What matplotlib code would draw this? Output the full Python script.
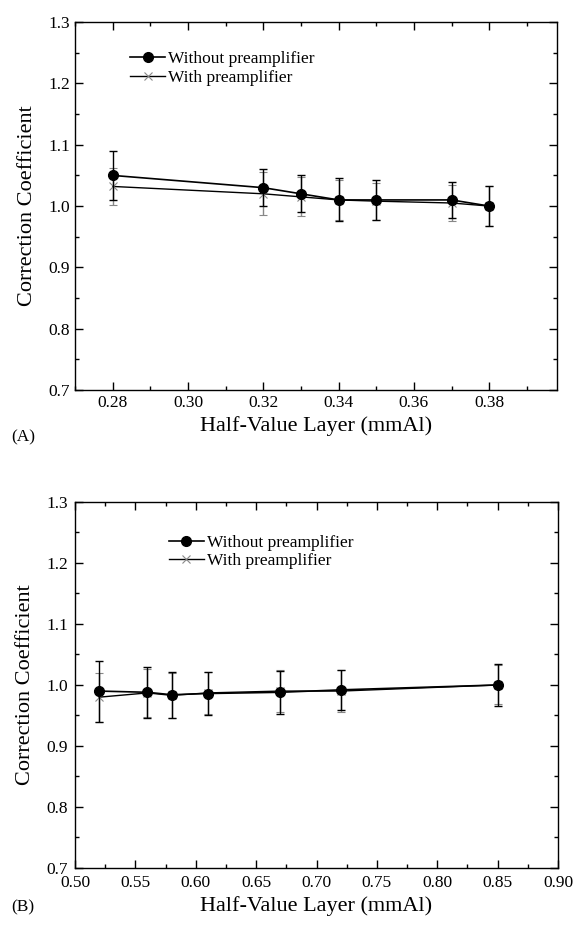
import numpy as np
import matplotlib.pyplot as plt
from matplotlib.ticker import MultipleLocator

plt.rcParams['font.family'] = ['Liberation Serif', 'DejaVu Serif']

# (A) data
hvl_a = [0.28, 0.32, 0.33, 0.34, 0.35, 0.37, 0.38]
without_a = [1.05, 1.03, 1.02, 1.01, 1.01, 1.01, 1.00]
without_a_err = [0.04, 0.03, 0.03, 0.035, 0.032, 0.03, 0.032]
with_a = [1.032, 1.02, 1.015, 1.01, 1.008, 1.005, 1.00]
with_a_err = [0.03, 0.035, 0.032, 0.032, 0.03, 0.03, 0.032]

# (B) data
hvl_b = [0.52, 0.56, 0.58, 0.61, 0.67, 0.72, 0.85]
without_b = [0.99, 0.988, 0.984, 0.986, 0.988, 0.992, 1.00]
without_b_err = [0.05, 0.042, 0.038, 0.035, 0.035, 0.033, 0.035]
with_b = [0.98, 0.987, 0.983, 0.987, 0.99, 0.99, 1.00]
with_b_err = [0.04, 0.04, 0.037, 0.035, 0.035, 0.035, 0.032]

fig = plt.figure(figsize=(5.74, 9.32), dpi=100)
ax1 = fig.add_axes([0.1307, 0.5815, 0.8397, 0.3948])
ax2 = fig.add_axes([0.1307, 0.0687, 0.8415, 0.3927])


def draw(ax, x, y1, e1, y2, e2):
    ax.errorbar(x, y2, yerr=e2, color='black', ecolor='#888888', elinewidth=1.0,
                capsize=3, capthick=1.0, lw=1.0, marker='x', ms=6, mec='#888888',
                mew=0.8, label='With preamplifier', zorder=2)
    ax.errorbar(x, y1, yerr=e1, color='black', ecolor='black', elinewidth=1.0,
                capsize=3, capthick=1.0, lw=1.2, marker='o', ms=7,
                label='Without preamplifier', zorder=3)
    ax.set_ylim(0.7, 1.3)
    ax.yaxis.set_major_locator(MultipleLocator(0.1))
    ax.yaxis.set_minor_locator(MultipleLocator(0.05))
    ax.tick_params(which='both', direction='in', top=True, right=True,
                   labelsize=12.5, width=1.0)
    ax.tick_params(which='major', length=6)
    ax.tick_params(which='minor', length=3)
    for s in ax.spines.values():
        s.set_linewidth(1.0)
    ax.set_ylabel('Correction Coefficient', fontsize=16, labelpad=8)
    ax.set_xlabel('Half-Value Layer (mmAl)', fontsize=16)
    h, l = ax.get_legend_handles_labels()
    return h[::-1], l[::-1]


h, l = draw(ax1, hvl_a, without_a, without_a_err, with_a, with_a_err)
ax1.set_xlim(0.27, 0.398)
ax1.set_xticks([0.28, 0.30, 0.32, 0.34, 0.36, 0.38])
ax1.xaxis.set_minor_locator(MultipleLocator(0.01))
ax1.set_xticklabels(['0.28', '0.30', '0.32', '0.34', '0.36', '0.38'])
ax1.legend([hh.lines[0] for hh in h], l, loc='upper left', bbox_to_anchor=(0.1, 0.94),
           frameon=False, fontsize=12.5, handlelength=2.0, handletextpad=0.2,
           labelspacing=0.15, borderaxespad=0)

h, l = draw(ax2, hvl_b, without_b, without_b_err, with_b, with_b_err)
ax2.set_xlim(0.5, 0.9)
ax2.xaxis.set_major_locator(MultipleLocator(0.05))
ax2.xaxis.set_minor_locator(MultipleLocator(0.025))
ax2.xaxis.set_major_formatter(plt.FormatStrFormatter('%.2f'))
ax2.tick_params(axis='x', pad=5)
ax2.tick_params(axis='y', pad=5)
ax2.legend([hh.lines[0] for hh in h], l, loc='upper left', bbox_to_anchor=(0.18, 0.93),
           frameon=False, fontsize=12.5, handlelength=2.0, handletextpad=0.2,
           labelspacing=0.15, borderaxespad=0)

fig.text(0.02, 1 - 437 / 932, '(A)', fontsize=12.5, va='center')
fig.text(0.02, 1 - 907 / 932, '(B)', fontsize=12.5, va='center')

fig.savefig('out.png', dpi=100)
